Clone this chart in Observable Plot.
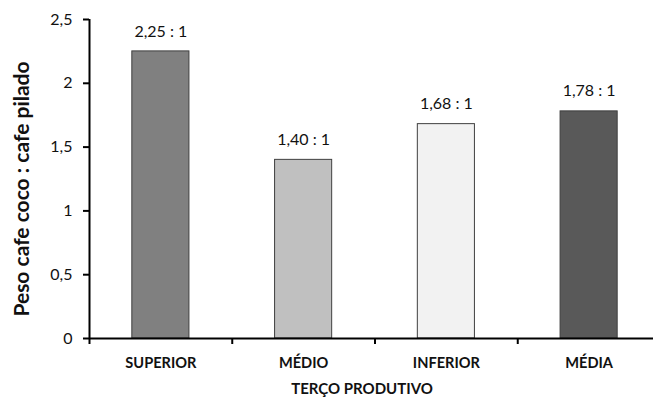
<!DOCTYPE html>
<html>
<head>
<meta charset="utf-8">
<script src="https://cdn.jsdelivr.net/npm/d3@7"></script>
<script src="https://cdn.jsdelivr.net/npm/@observablehq/plot@0.6"></script>
<style>
  html, body { margin: 0; padding: 0; background: #fff; }
  svg { font-family: Lato, "Open Sans", sans-serif; }
</style>
</head>
<body>
<div id="chart"></div>
<script>
// Terço produtivo categories and coffee weight ratios (coco : pilado)
const categories = ["SUPERIOR", "MÉDIO", "INFERIOR", "MÉDIA"];
const ratios = [2.25, 1.40, 1.68, 1.78];
const fills = ["#808080", "#c0c0c0", "#f2f2f2", "#595959"];
const yTicks = [0, 0.5, 1, 1.5, 2, 2.5];

const comma = v => String(v).replace(".", ",");
const ratioLabel = v => v.toFixed(2).replace(".", ",") + " : 1";

const data = categories.map((c, i) => ({i, category: c, value: ratios[i], fill: fills[i]}));

// The plot area runs slightly past the right edge of the SVG, so the
// last category boundary tick falls outside the visible frame.
const chart = Plot.plot({
  width: 653,
  height: 401,
  marginLeft: 89,
  marginRight: -7,
  marginTop: 19,
  marginBottom: 63,
  style: {fontFamily: "Lato, 'Open Sans', sans-serif", background: "#fff"},
  x: {domain: [0, categories.length], axis: null},
  y: {domain: [0, 2.5], axis: null},
  marks: [
    Plot.rectY(data, {
      x1: d => d.i + 0.3,
      x2: d => d.i + 0.7,
      y: "value",
      fill: "fill",
      stroke: "#3f3f3f",
      strokeWidth: 1
    }),
    Plot.text(data, {
      x: d => d.i + 0.5,
      y: "value",
      text: d => ratioLabel(d.value),
      dy: -20,
      fontSize: 16,
      fill: "#111"
    }),
    // y axis
    Plot.axisY({
      ticks: yTicks,
      tickFormat: comma,
      tickSize: 6,
      tickPadding: 11,
      fontSize: 16,
      stroke: "#000",
      strokeWidth: 2,
      label: null,
      fill: "#111"
    }),
    Plot.ruleX([0], {stroke: "#000", strokeWidth: 2}),
    // x axis: boundary ticks and centred category labels
    Plot.ruleY([0], {stroke: "#000", strokeWidth: 2}),
    Plot.axisX({
      ticks: d3.range(categories.length + 1),
      tickFormat: () => "",
      tickSize: 6,
      strokeWidth: 2,
      label: null
    }),
    Plot.axisX({
      ticks: categories.map((c, i) => i + 0.5),
      tickFormat: t => categories[t - 0.5],
      tickSize: 0,
      tickPadding: 19,
      fontSize: 14.6,
      fontWeight: "bold",
      fill: "#111",
      label: null
    }),
    Plot.text(["TERÇO PRODUTIVO"], {
      frameAnchor: "bottom",
      dx: -13,
      dy: 55,
      text: d => d,
      fontSize: 15,
      fontWeight: "bold",
      fill: "#111"
    }),
    Plot.text(["Peso cafe coco : cafe pilado"], {
      frameAnchor: "left",
      textAnchor: "middle",
      dx: -67,
      dy: 10,
      rotate: -90,
      text: d => d,
      fontSize: 21,
      fontWeight: "bold",
      fill: "#111"
    })
  ]
});

document.getElementById("chart").appendChild(chart);
</script>
</body>
</html>
